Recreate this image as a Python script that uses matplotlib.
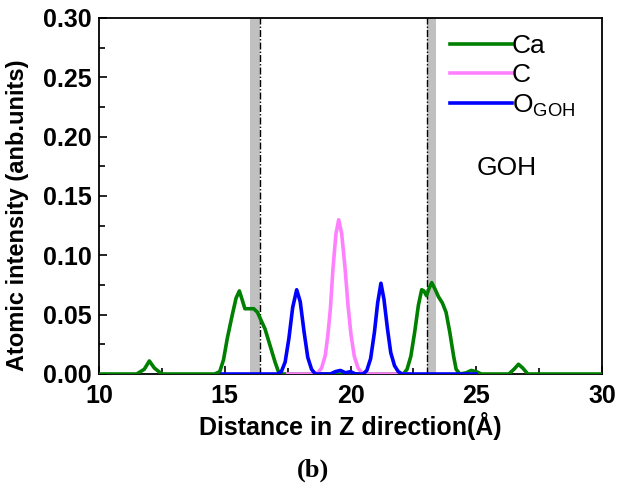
import matplotlib
matplotlib.use("Agg")
import matplotlib.pyplot as plt

plt.rcParams['font.family'] = ['Liberation Sans', 'DejaVu Sans']
plt.rcParams['mathtext.fontset'] = 'custom'
plt.rcParams['mathtext.rm'] = 'Liberation Sans'

# Ca profile
ca_x = [10, 11.5, 11.8, 12.0, 12.2, 12.5, 14.6, 14.8, 14.95, 15.1, 15.3, 15.45, 15.58, 15.7, 15.8,
        16.0, 16.15, 16.3, 16.45, 16.6, 16.8, 17.0, 17.15, 17.3, 22.1, 22.25, 22.4, 22.55, 22.7,
        22.83, 22.92, 23.02, 23.12, 23.23, 23.35, 23.5, 23.65, 23.8, 23.95, 24.1, 24.2, 24.35,
        24.6, 24.8, 25.0, 25.2, 26.3, 26.5, 26.68, 26.85, 27.05, 27.3, 30]
ca_y = [0, 0, 0.004, 0.011, 0.005, 0, 0, 0.002, 0.012, 0.03, 0.05, 0.064, 0.070, 0.062, 0.055,
        0.055, 0.055, 0.052, 0.045, 0.038, 0.024, 0.010, 0.001, 0, 0, 0.004, 0.015, 0.035, 0.058,
        0.071, 0.070, 0.066, 0.072, 0.077, 0.072, 0.065, 0.060, 0.052, 0.035, 0.015, 0.004, 0,
        0.001, 0.003, 0.002, 0, 0, 0.004, 0.0082, 0.005, 0, 0, 0]

# C profile
c_x = [17.5, 18.5, 18.7, 18.85, 19.0, 19.1, 19.2, 19.3, 19.42, 19.53, 19.65, 19.78, 19.9, 20.02,
       20.15, 20.3, 20.45, 20.6, 22.3]
c_y = [0, 0, 0.001, 0.005, 0.016, 0.033, 0.055, 0.088, 0.118, 0.130, 0.118, 0.090, 0.058, 0.033,
       0.015, 0.005, 0.001, 0, 0]

# O_GOH profile
o_x = [14.9, 17.1, 17.25, 17.4, 17.55, 17.7, 17.86, 18.0, 18.15, 18.3, 18.45, 18.6, 19.2, 19.4,
       19.6, 19.8, 20.0, 20.2, 20.5, 20.65, 20.8, 20.95, 21.08, 21.21, 21.33, 21.47, 21.6, 21.75,
       21.9, 22.05, 25.0]
o_y = [0, 0, 0.002, 0.010, 0.030, 0.056, 0.071, 0.061, 0.036, 0.014, 0.004, 0, 0, 0.002,
       0.003, 0.001, 0.002, 0, 0, 0.003, 0.013, 0.035, 0.060, 0.0765, 0.063, 0.038, 0.018, 0.007,
       0.002, 0, 0]

bands = [(16.0, 16.4), (23.05, 23.4)]
dashlines = [16.4, 23.05]

x_ticks = [10, 15, 20, 25, 30]
y_ticks = [0.00, 0.05, 0.10, 0.15, 0.20, 0.25, 0.30]

fig = plt.figure(figsize=(6.19, 4.98), dpi=100)
ax = fig.add_axes([0.16, 0.249, 0.8125, 0.7149])

for a, b in bands:
    ax.axvspan(a, b, color='#c0c0c0', lw=0, zorder=1)
for xv in dashlines:
    ax.axvline(xv, color='black', lw=1.0, ls=(0, (5, 1.5, 1, 1.5)), zorder=2)

ax.plot(ca_x, ca_y, color='#008000', lw=2.6, label='Ca', zorder=3)
ax.plot(c_x, c_y, color='#ff80ff', lw=2.6, label='C', zorder=4)
ax.plot(o_x, o_y, color='#0000ff', lw=2.6, label=r'O$_{\mathrm{GOH}}$', zorder=5)

ax.set_xlim(10, 30)
ax.set_ylim(0, 0.30)
ax.set_xticks(x_ticks)
ax.set_yticks(y_ticks)
ax.set_xticks([12.5, 17.5, 22.5, 27.5], minor=True)
ax.set_yticks([0.025, 0.075, 0.125, 0.175, 0.225, 0.275], minor=True)
ax.set_xticklabels([str(v) for v in x_ticks], fontsize=18, fontweight='bold')
ax.set_yticklabels(['%.2f' % v for v in y_ticks], fontsize=18, fontweight='bold')
ax.tick_params(which='major', direction='in', length=6, width=1.2)
ax.tick_params(axis='x', which='major', pad=7)
ax.tick_params(axis='y', which='major', pad=5)
ax.tick_params(which='minor', direction='in', length=4, width=1.2)
for s in ax.spines.values():
    s.set_linewidth(1.3)

ax.set_xlabel('Distance in Z direction(Å)', fontsize=18, fontweight='bold', labelpad=3)
ax.set_ylabel('Atomic intensity (anb.units)', fontsize=17, fontweight='bold')
ax.yaxis.set_label_coords(-0.14, 0.447)

leg = ax.legend(loc='upper left', bbox_to_anchor=(0.677, 0.985), frameon=False, fontsize=19,
                handlelength=2.35, handletextpad=0.0, labelspacing=0.2, borderaxespad=0)
ax.text(0.81, 0.58, 'GOH', transform=ax.transAxes, fontsize=19, ha='center', va='center')

fig.text(0.505, 0.055, '(b)', fontsize=19, fontweight='bold', family='Liberation Serif',
         ha='center', va='center')

fig.savefig('out.png', dpi=100)
